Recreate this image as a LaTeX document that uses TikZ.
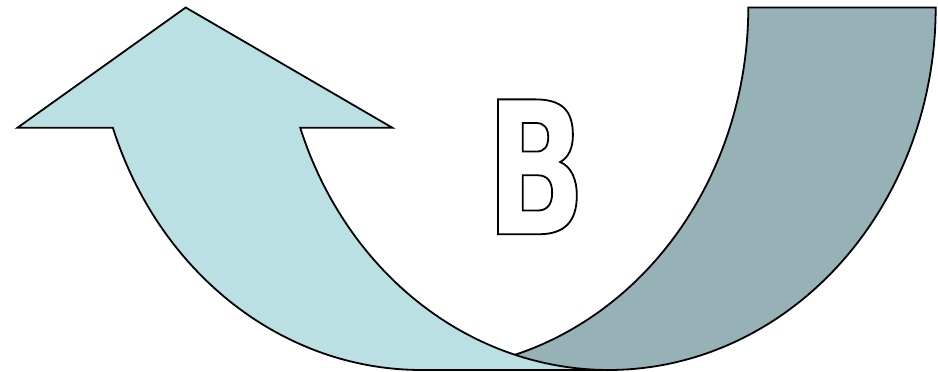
\documentclass[tikz,border=0pt]{standalone}
\usepackage{fontspec}
\newfontfamily\letterfont[FakeStretch=0.71]{DejaVu Sans}
\definecolor{lightband}{RGB}{187,224,227}
\definecolor{darkband}{RGB}{151,178,182}
\begin{document}
\begin{tikzpicture}[x=1pt,y=-1pt,line join=miter]
\tikzset{band/.style={draw=black,line width=1.8pt}}
\useasboundingbox (0,0) rectangle (938,372);
% back (dark) part of the band
\draw[band,fill=darkband]
  plot[domain=0:90,samples=90] ({421.3+327*cos(\x)},{7.5+362.5*sin(\x)})
  -- plot[domain=90:0,samples=90] ({608.7+327*cos(\x)},{7.5+362.5*sin(\x)})
  -- cycle;
% front (light) part with the arrow head
\draw[band,fill=lightband]
  plot[domain=160.63:90,samples=90] ({421.3+327*cos(\x)},{7.5+362.5*sin(\x)})
  -- plot[domain=90:160.63,samples=90] ({608.7+327*cos(\x)},{7.5+362.5*sin(\x)})
  -- (392.3,127.7) -- (185.7,7.5) -- (17.5,127.7) -- cycle;
% outlined letter
\node[inner sep=0pt] (letterB) at (536,166.8)
  {\special{pdf:literal direct 1 Tr 1.8 w}\letterfont\bfseries\fontsize{185}{185}\selectfont B\special{pdf:literal direct 0 Tr}};
\end{tikzpicture}
\end{document}
